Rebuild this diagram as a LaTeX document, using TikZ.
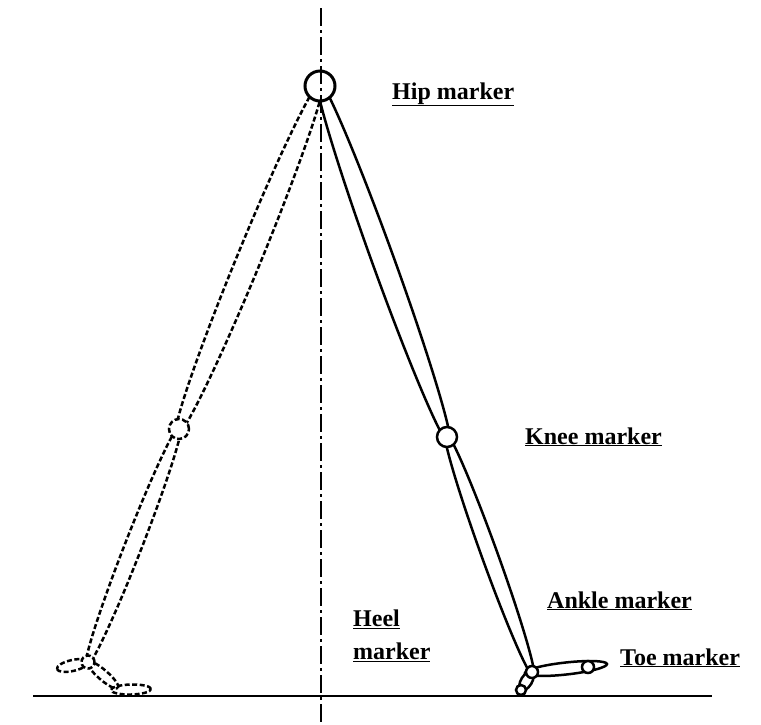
\documentclass[tikz,border=0pt]{standalone}
\usepackage{fontspec}
\setmainfont{Liberation Serif}
\usetikzlibrary{calc,shapes.geometric,backgrounds}

% segment du membre : ellipse allongée entre deux marqueurs (#1 : débord)
\newcommand\segment[5][0pt]{%
  \path let \p1=($(#3)-(#2)$), \n1={atan2(\y1,\x1)}, \n2={veclen(\x1,\y1)} in
    ($(#2)!0.5!(#3)$) node[ellipse, draw, #5, inner sep=0pt, outer sep=0pt,
      minimum width=\n2+#1, minimum height=#4, rotate=\n1] {};}

\begin{document}
\begin{tikzpicture}[x=1pt,y=-1pt,
    trait/.style={line width=2.5pt},
    pointille/.style={line width=2.5pt, dash pattern=on 5pt off 2.5pt},
    marqueur/.style={circle, draw, fill=white, inner sep=0pt, line width=2.5pt},
    legende/.style={anchor=base west, inner sep=0pt, font=\bfseries\fontsize{24}{33}\selectfont}]
  \useasboundingbox (0,0) rectangle (761,724);

  % marqueurs
  \node[marqueur, line width=3pt, minimum size=30pt] (hip) at (320,86) {};
  \node[marqueur, pointille, minimum size=20pt] (lknee) at (179,429) {};
  \node[marqueur, pointille, minimum size=13pt] (lankle) at (88,662) {};
  \node[marqueur, minimum size=20pt] (rknee) at (447,437) {};
  \node[marqueur, minimum size=12pt] (rankle) at (532,672) {};
  \node[marqueur, minimum size=12pt] (rtoe) at (588,667) {};
  \node[marqueur, minimum size=10pt] (rheel) at (521,690) {};
  \coordinate (lheel) at (57,669);
  \coordinate (lball) at (118,688);
  \coordinate (lsole) at (111,690);
  \coordinate (ltip) at (151,689);
  \coordinate (rsole) at (525,673);
  \coordinate (rtip) at (607,664);

  \begin{scope}[on background layer]
    % jambe en pointillés
    \segment[16pt]{hip}{lknee}{24pt}{pointille}
    \segment[10pt]{lknee}{lankle}{17pt}{pointille}
    \segment{lankle}{lheel}{11pt}{pointille}
    \segment{lankle}{lball}{10pt}{pointille}
    \segment{lsole}{ltip}{10pt}{pointille}
    % jambe en trait plein
    \segment[16pt]{hip}{rknee}{22pt}{trait}
    \segment[10pt]{rknee}{rankle}{16pt}{trait}
    \segment{rsole}{rtip}{12pt}{trait}
    \segment{rankle}{rheel}{11pt}{trait}
  \end{scope}

  % axe et sol
  \coordinate (axtop) at (321,8);
  \coordinate (axbot) at (321,724);
  \coordinate (solg) at (33,696);
  \coordinate (sold) at (712,696);
  \draw[line width=2pt, dash pattern=on 18pt off 4pt on 3pt off 4pt] (axtop) -- (axbot);
  \draw[line width=1.5pt] (solg) -- (sold);

  \node[legende] (hiplab) at (392,99) {\underline{Hip marker}};
  \node[legende] (kneelab) at (525,444) {\underline{Knee marker}};
  \node[legende] (anklelab) at (547,608) {\underline{Ankle marker}};
  \node[legende, anchor=north west, align=left] (heellab) at (353,610) {\underline{Heel}\\\underline{marker}};
  \node[legende] (toelab) at (620,665) {\underline{Toe marker}};
\end{tikzpicture}
\end{document}
